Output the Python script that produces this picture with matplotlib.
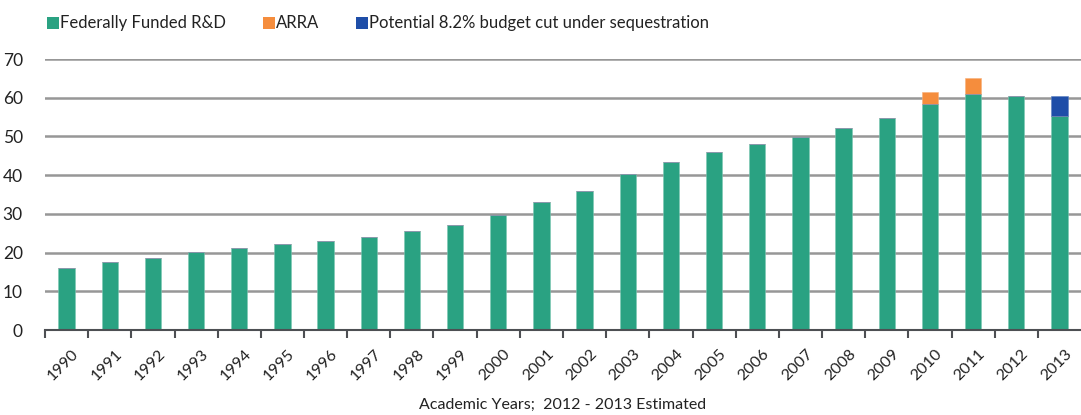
import matplotlib.pyplot as plt
from matplotlib.patches import Rectangle
import matplotlib.transforms as mtransforms
import numpy as np

plt.rcParams['font.family'] = ['Lato', 'DejaVu Sans']

years = [str(y) for y in range(1990, 2014)]
federal = [16.1, 17.5, 18.6, 20.1, 21.1, 22.1, 23.1, 24.1, 25.7, 27.2, 29.8, 33.0,
           36.0, 40.2, 43.3, 46.0, 48.0, 49.8, 52.1, 54.7, 58.3, 60.9, 60.4, 55.2]
arra = [0]*20 + [3.1, 4.1, 0, 0]
seq_cut = [0]*23 + [5.2]
legend_labels = ["Federally Funded R&D", "ARRA", "Potential 8.2% budget cut under sequestration"]

green = "#2aa282"
orange = "#f58d3d"
blue = "#1f4ea8"
grid_col = "#979797"
txt = "#222222"

W, H = 1081, 415
fig = plt.figure(figsize=(W/100, H/100), dpi=100)
ax = fig.add_axes([45/W, 85/H, 1036/W, 271/H])

x = np.arange(len(years))
w = 0.38
fed = np.array(federal)
ax.bar(x, fed, w, color=green, edgecolor="#7cc8b2", linewidth=0.4, zorder=3)
ax.bar(x, arra, w, bottom=fed, color=orange, edgecolor="#f8b07a", linewidth=0.4, zorder=3)
ax.bar(x, seq_cut, w, bottom=fed, color=blue, edgecolor="#5b7fc0", linewidth=0.4, zorder=3)

ax.set_xlim(-0.5, len(years) - 0.5)
ax.set_ylim(0, 70)
ax.set_yticks(range(0, 80, 10))
for v in range(10, 80, 10):
    ax.axhline(v, color=grid_col, lw=1.8, zorder=1)

for s in ["top", "right", "left"]:
    ax.spines[s].set_visible(False)
ax.spines["bottom"].set_color("#4d4f53")
ax.spines["bottom"].set_linewidth(1.5)
ax.spines["bottom"].set_zorder(4)

# ticks sit between bars, labels under bars
ax.set_xticks(x - 0.5)
ax.set_xticklabels([])
ax.tick_params(axis="x", which="major", length=6, width=1.5, color="#4d4f53", direction="out")
ax.set_xticks(x, minor=True)
ax.set_xticklabels(years, minor=True, rotation=45, ha="right", rotation_mode="anchor", fontsize=11.5, color=txt)
ax.tick_params(axis="x", which="minor", length=0, pad=12)
off = mtransforms.ScaledTranslation(5/100, 0, fig.dpi_scale_trans)
for lab in ax.get_xticklabels(minor=True):
    lab.set_transform(lab.get_transform() + off)
ax.tick_params(axis="y", length=0, labelsize=12.5, pad=16, labelcolor=txt)

ax.set_xlabel("Academic Years;  2012 - 2013 Estimated", fontsize=11.5, color=txt, va="center")
ax.xaxis.set_label_coords(0.5, -(405 - 330)/271)

# legend row at top
leg_x = [47, 263, 356]
for xx, lab, col in zip(leg_x, legend_labels, [green, orange, blue]):
    fig.add_artist(Rectangle((xx/W, 1 - 29/H), 12/W, 12/H, transform=fig.transFigure,
                             facecolor=col, edgecolor="none"))
    fig.text((xx + 13)/W, 1 - 23/H, lab, fontsize=12, color=txt, va="center", ha="left")

fig.savefig("out.png", dpi=100)
